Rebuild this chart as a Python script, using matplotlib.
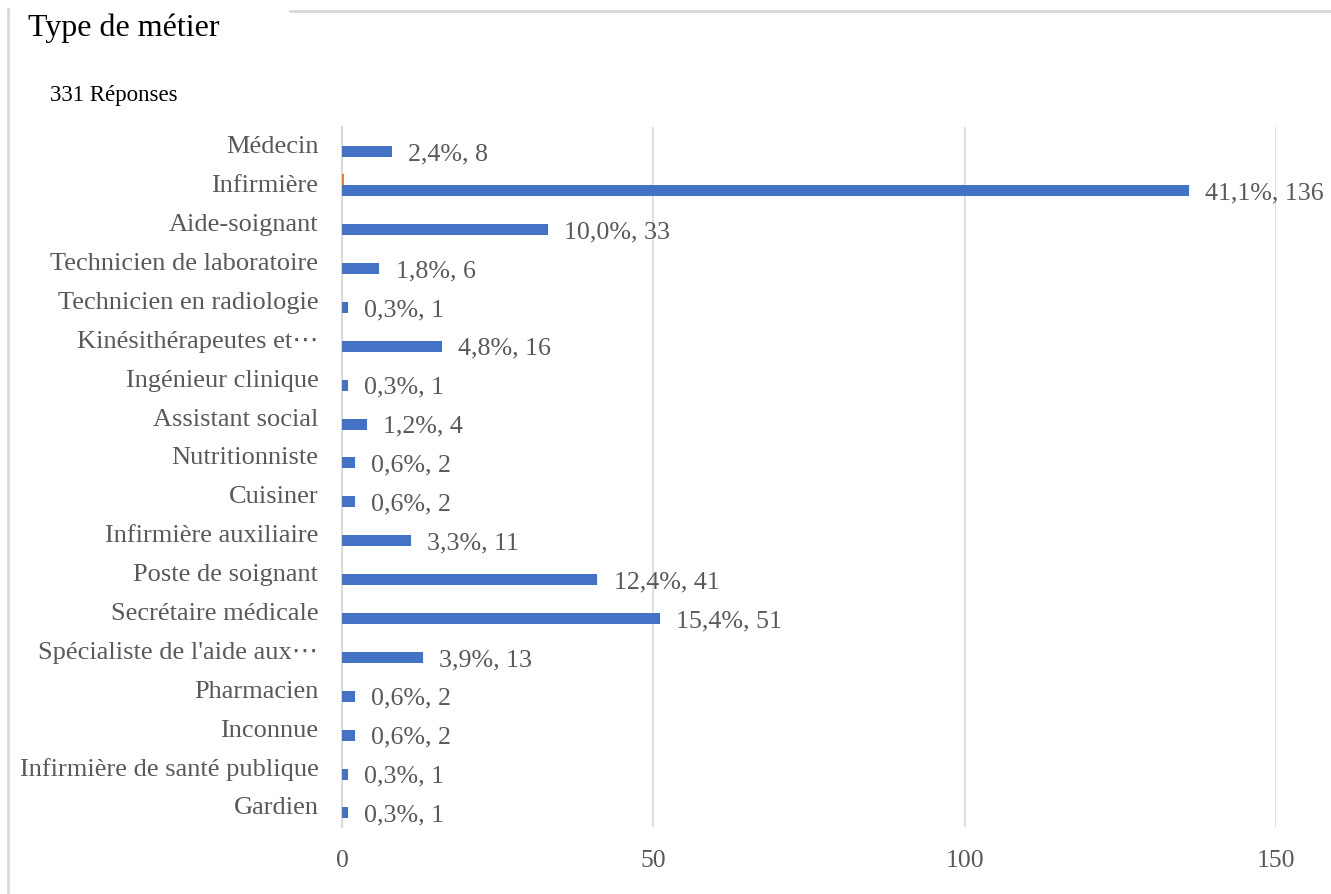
import matplotlib.pyplot as plt
from matplotlib.lines import Line2D

plt.rcParams['font.family'] = ['Liberation Serif', 'DejaVu Serif', 'DejaVu Sans']

total = 331
categories = ['Médecin', 'Infirmière', 'Aide-soignant', 'Technicien de laboratoire',
              'Technicien en radiologie', 'Kinésithérapeutes et⋯', 'Ingénieur clinique',
              'Assistant social', 'Nutritionniste', 'Cuisiner', 'Infirmière auxiliaire',
              'Poste de soignant', 'Secrétaire médicale', "Spécialiste de l'aide aux⋯",
              'Pharmacien', 'Inconnue', 'Infirmière de santé publique', 'Gardien']
counts = [8, 136, 33, 6, 1, 16, 1, 4, 2, 2, 11, 41, 51, 13, 2, 2, 1, 1]
other = [0, 0.3, 0, 0, 0, 0, 0, 0, 0, 0, 0, 0, 0, 0, 0, 0, 0, 0]
xticks = [0, 50, 100, 150]

blue = '#4472C4'
orange = '#ED7D31'
grey = '#595959'

fig = plt.figure(figsize=(13.31, 8.95), dpi=100)
ax = fig.add_axes([0.257, 0.075, 0.7017, 0.782])

ypos = list(range(len(categories)))
h = 0.283
ax.barh([y - h / 2 for y in ypos], other, height=h, color=orange, zorder=3)
ax.barh([y + h / 2 for y in ypos], counts, height=h, color=blue, zorder=3)

for y, c in zip(ypos, counts):
    pct = f'{c / total * 100:.1f}'.replace('.', ',')
    ax.text(c + 2.6, y + h / 2 + 0.04, f'{pct}%, {c}', va='center', ha='left',
            fontsize=18.7, color=grey, clip_on=False)

ax.set_xlim(0, 150)
ax.set_ylim(len(categories) - 0.5, -0.5)
ax.set_xticks(xticks)
ax.set_xticklabels([str(t) for t in xticks], fontsize=18.5, color=grey)
ax.set_yticks(ypos)
ax.set_yticklabels(categories, fontsize=19, color=grey)
ax.tick_params(axis='both', length=0)
ax.tick_params(axis='x', pad=16)
ax.tick_params(axis='y', pad=17)
for lbl in ax.get_yticklabels():
    lbl.set_verticalalignment('center')

for s in ['top', 'right', 'bottom']:
    ax.spines[s].set_visible(False)
ax.spines['left'].set_color('#d9d9d9')
ax.spines['left'].set_linewidth(1.5)
ax.grid(axis='x', color='#d9d9d9', linewidth=1.2, zorder=0)
ax.set_axisbelow(True)

# frame of the card
fig.add_artist(Line2D([8 / 1331, 8 / 1331], [0, 1 - 10 / 895], color='#d9d9d9', lw=2))
fig.add_artist(Line2D([290 / 1331, 1], [1 - 12 / 895, 1 - 12 / 895], color='#d9d9d9', lw=2))

fig.text(28 / 1331, 1 - 28 / 895, 'Type de métier', fontsize=23, color='black', va='center')
fig.text(50 / 1331, 1 - 95 / 895, '331 Réponses', fontsize=16.5, color='black', va='center')

fig.savefig('out.png', dpi=100)
